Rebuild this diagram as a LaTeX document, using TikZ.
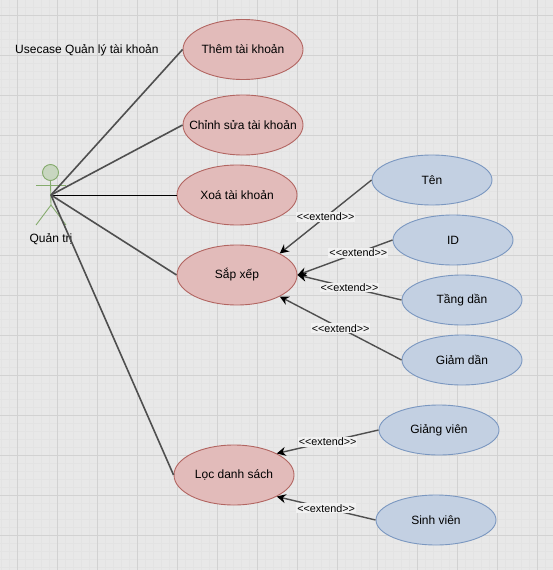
\documentclass[tikz,border=0pt]{standalone}
\usepackage{fontspec}
\setmainfont{Liberation Sans}
\usetikzlibrary{shapes.geometric,arrows.meta}
\definecolor{pagebg}{HTML}{E8E8E8}
\definecolor{gridminor}{HTML}{E3E3E3}
\definecolor{gridmajor}{HTML}{D2D2D2}
\definecolor{usefill}{HTML}{E2BBBA}
\definecolor{useline}{HTML}{B26561}
\definecolor{extfill}{HTML}{C3D0E2}
\definecolor{extline}{HTML}{7A97C0}
\definecolor{actorfill}{HTML}{C8D6C0}
\definecolor{actorline}{HTML}{85AB6D}
\definecolor{edgeline}{HTML}{4F4F4F}
\newcommand{\extendtext}{{<}{<}extend{>}{>}}
\tikzset{
  usecase/.style={ellipse,draw=useline,fill=usefill,line width=0.9pt,minimum width=120pt,minimum height=60pt,inner xsep=-20pt,inner ysep=0pt,font=\fontsize{12}{14}\selectfont},
  extcase/.style={ellipse,draw=extline,fill=extfill,line width=0.9pt,minimum width=120pt,minimum height=50pt,inner sep=0pt,font=\fontsize{12}{14}\selectfont},
  actorpart/.style={draw=actorline,line width=0.9pt},
  assoc/.style={draw=edgeline,line width=1.6pt},
  extend/.style={draw=edgeline,line width=1.4pt,-{Stealth[black,length=9pt,width=9pt]}},
  extlabel/.style={fill=pagebg!60!white,inner sep=1pt,font=\fontsize{10.8}{12}\selectfont},
  plaintext/.style={inner sep=0pt,font=\fontsize{12}{14}\selectfont}
}
\begin{document}
\begin{tikzpicture}[x=1pt,y=-1pt]
        \useasboundingbox (0,0) rectangle (553,570);
        \fill[pagebg] (0,0) rectangle (553,570);
        % grid
        \foreach \gx in {1,9,...,553} {\draw[gridminor,line width=0.5pt] (\gx,0) -- (\gx,570);}
        \foreach \gy in {7,15,...,570} {\draw[gridminor,line width=0.5pt] (0,\gy) -- (553,\gy);}
        \foreach \gx in {17,57,...,553} {\draw[gridmajor,line width=0.8pt] (\gx,0) -- (\gx,570);}
        \foreach \gy in {15,55,...,570} {\draw[gridmajor,line width=0.8pt] (0,\gy) -- (553,\gy);}
        % actor
        \coordinate (actor) at (51,195);
        \node[circle,draw=actorline,fill=actorfill,line width=0.9pt,minimum size=16pt,inner sep=0pt] (head) at (50.5,172.5) {};
        \coordinate (hip) at (51,205);
        \coordinate (armleft) at (36,185);
        \coordinate (armright) at (66,185);
        \coordinate (footleft) at (36,225);
        \coordinate (footright) at (66,225);
        \draw[actorpart] (head.south) -- (hip);
        \draw[actorpart] (armleft) -- (armright);
        \draw[actorpart] (footleft) -- (hip) -- (footright);
        \node[plaintext] (actorname) at (51,239) {Quản trị};
        \node[plaintext,anchor=west] (title) at (15,50) {Usecase Quản lý tài khoản};
        % use cases
        \node[usecase] (them) at (243,49.5) {Thêm tài khoản};
        \node[usecase] (sua) at (243,125) {Chỉnh sửa tài khoản};
        \node[usecase] (xoa) at (237,195) {Xoá tài khoản};
        \node[usecase] (sapxep) at (237,275) {Sắp xếp};
        \node[usecase] (loc) at (234,475) {Lọc danh sách};
        % extensions
        \node[extcase] (ten) at (432,180) {Tên};
        \node[extcase] (id) at (453,240) {ID};
        \node[extcase] (tang) at (462,300) {Tầng dần};
        \node[extcase] (giam) at (462,360) {Giảm dần};
        \node[extcase] (giangvien) at (439,430) {Giảng viên};
        \node[extcase] (sinhvien) at (436,520) {Sinh viên};
        % connectors
        \draw[assoc] (actor) -- (them.west);
        \draw[assoc] (actor) -- (sua.west);
        \draw[line width=1pt,black] (actor) -- (xoa.west);
        \draw[assoc] (actor) -- (sapxep.west);
        \draw[assoc] (actor) -- (loc.west);
        \draw[extend] (ten.west) -- node[extlabel,pos=0.5] {\extendtext} (sapxep.north east);
        \draw[extend] (id.west) -- node[extlabel,pos=0.36] {\extendtext} (sapxep.east);
        \draw[extend] (tang.west) -- node[extlabel,pos=0.5] {\extendtext} (sapxep.east);
        \draw[extend] (giam.west) -- node[extlabel,pos=0.5] {\extendtext} (sapxep.south east);
        \draw[extend] (giangvien.west) -- node[extlabel,pos=0.5] {\extendtext} (loc.north east);
        \draw[extend] (sinhvien.west) -- node[extlabel,pos=0.5] {\extendtext} (loc.south east);
\end{tikzpicture}
\end{document}
